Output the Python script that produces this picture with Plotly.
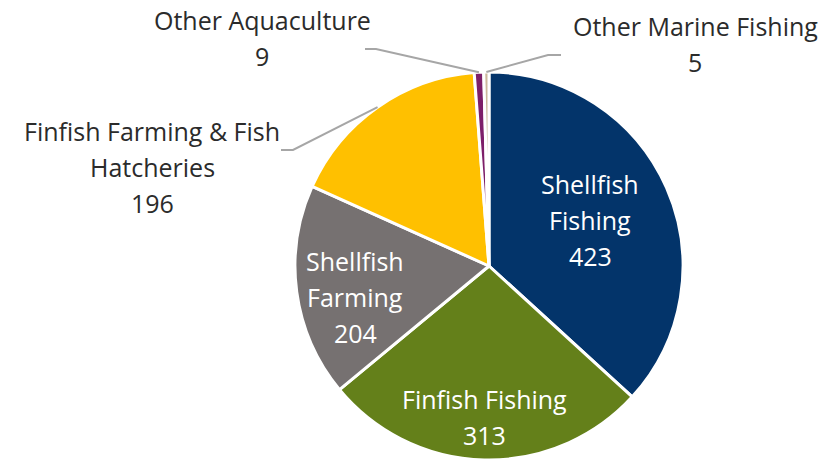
import math
import plotly.graph_objects as go

# Employment by sub-sector
categories = [
    "Shellfish Fishing",
    "Finfish Fishing",
    "Shellfish Farming",
    "Finfish Farming & Fish Hatcheries",
    "Other Aquaculture",
    "Other Marine Fishing",
]
values = [423, 313, 204, 196, 9, 5]

colors = ["#03346a", "#64801a", "#767171", "#ffc000", "#7d1f69", "#cdb99c"]

W, H = 828, 460
PIE_TOP = 72                      # px from top; pie touches the bottom edge
R = (H - PIE_TOP) / 2
CX, CY = 489, PIE_TOP + R         # pie centre in px (from top-left)

FONT = "Open Sans"
FS = 25
LINE_GAP = 36

# label block centres (px) and line layout per slice
label_style = {
    "Shellfish Fishing": dict(pos=(590, 220), lines=["Shellfish", "Fishing"], color="white"),
    "Finfish Fishing": dict(pos=(484, 417), lines=["Finfish Fishing"], color="white"),
    "Shellfish Farming": dict(pos=(355, 297), lines=["Shellfish", "Farming"], color="white"),
    "Finfish Farming & Fish Hatcheries": dict(pos=(152, 167), lines=["Finfish Farming & Fish", "Hatcheries"], color="#2b2b2b",
                                              leader=[(293, 150), (281, 150)]),
    "Other Aquaculture": dict(pos=(262, 38), lines=["Other Aquaculture"], color="#2b2b2b",
                              leader=[(376, 49), (365, 49)]),
    "Other Marine Fishing": dict(pos=(695, 44), lines=["Other Marine Fishing"], color="#2b2b2b",
                                 leader=[(548, 55), (561, 55)]),
}


def px_to_paper(x, y):
    return x / W, 1 - y / H


fig = go.Figure(
    go.Pie(
        labels=categories,
        values=values,
        sort=False,
        direction="clockwise",
        rotation=0,
        marker=dict(colors=colors, line=dict(color="white", width=3)),
        textinfo="none",
        hoverinfo="label+value",
        showlegend=False,
        domain=dict(
            x=[(CX - R) / W, (CX + R) / W],
            y=[0, 1 - PIE_TOP / H],
        ),
    )
)

total = sum(values)
annotations = []
shapes = []
cum = 0
for name, val in zip(categories, values):
    mid = (cum + val / 2) / total * 2 * math.pi   # clockwise from 12 o'clock
    cum += val
    st = label_style[name]
    lines = st["lines"] + [str(val)]
    bx, by = st["pos"]
    n = len(lines)
    for i, txt in enumerate(lines):
        ly = by + (i - (n - 1) / 2) * LINE_GAP
        px, py = px_to_paper(bx, ly)
        annotations.append(dict(
            x=px, y=py, xref="paper", yref="paper", text=txt, showarrow=False,
            xanchor="center", yanchor="middle",
            font=dict(family=FONT, size=FS, color=st["color"]),
        ))
    if "leader" in st:
        ex = CX + R * math.sin(mid)
        ey = CY - R * math.cos(mid)
        pts = [(ex, ey)] + st["leader"]
        path = "M " + " L ".join(
            "{:.5f},{:.5f}".format(*px_to_paper(x, y)) for x, y in pts
        )
        shapes.append(dict(type="path", xref="paper", yref="paper", path=path,
                           line=dict(color="#a6a6a6", width=2)))

fig.update_layout(
    width=W,
    height=H,
    margin=dict(l=0, r=0, t=0, b=0),
    paper_bgcolor="white",
    plot_bgcolor="white",
    annotations=annotations,
    shapes=shapes,
    font=dict(family=FONT),
)

fig.write_html("out.html")
